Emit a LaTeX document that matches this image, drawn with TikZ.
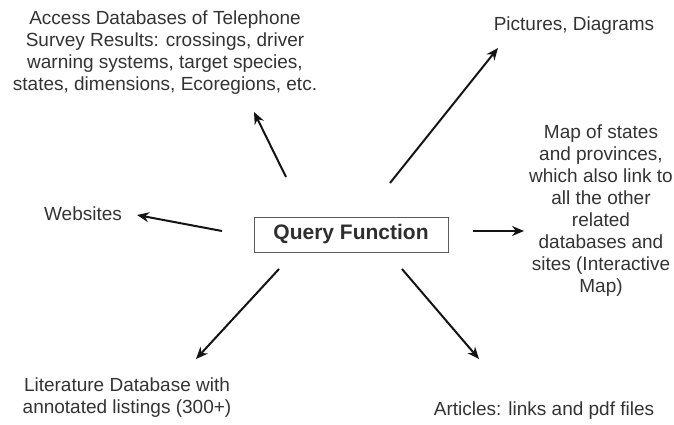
\documentclass[tikz,border=0pt]{standalone}
\usepackage{fontspec}
\setmainfont{Liberation Sans}
\usepackage{xcolor}
\usetikzlibrary{arrows.meta,positioning}
\definecolor{ink}{HTML}{333333}

\begin{document}
\begin{tikzpicture}[
  x=1pt, y=-1pt,
  label/.style={align=center, inner sep=0pt, text=ink,
                font=\fontsize{19}{22}\selectfont},
  query/.style={rectangle, draw=ink!80, line width=0.9pt, minimum width=194pt,
                minimum height=35pt, align=center, text=ink!90!black,
                font=\fontsize{21}{24}\selectfont\bfseries},
  link/.style={-{Stealth[length=12pt, width=10pt]}, line width=2pt, ink!40!black},
]
\useasboundingbox (0,0) rectangle (674,424);

% Centre
\node[query] (qf) at (351,234.5) {Query Function};

% Targets
\node[label] (access) at (165,53) {Access Databases of Telephone\\Survey Results: crossings, driver\\warning systems, target species,\\states, dimensions, Ecoregions, etc.};
\node[label] (pics) at (574,26) {Pictures, Diagrams};
\node[label] (map) at (601,211) {Map of states\\and provinces,\\which also link to\\all the other\\related\\databases and\\sites (Interactive\\Map)};
\node[label] (web) at (83,214) {Websites};
\node[label] (lit) at (127,398) {Literature Database with\\annotated listings (300+)};
\node[label] (art) at (544,411) {Articles: links and pdf files};

% Arrow ends
\coordinate (access-s) at (286,177); \coordinate (access-e) at (254,112);
\coordinate (pics-s) at (390,183);   \coordinate (pics-e) at (498,48);
\coordinate (web-s) at (222,231);    \coordinate (web-e) at (137,215);
\coordinate (map-s) at (473,231);    \coordinate (map-e) at (524,231);
\coordinate (lit-s) at (279,269);    \coordinate (lit-e) at (196,359);
\coordinate (art-s) at (402,269);    \coordinate (art-e) at (479,359);

% Connections
\draw[link] (access-s) -- (access-e);
\draw[link] (pics-s) -- (pics-e);
\draw[link] (web-s) -- (web-e);
\draw[link] (map-s) -- (map-e);
\draw[link] (lit-s) -- (lit-e);
\draw[link] (art-s) -- (art-e);

\end{tikzpicture}
\end{document}
